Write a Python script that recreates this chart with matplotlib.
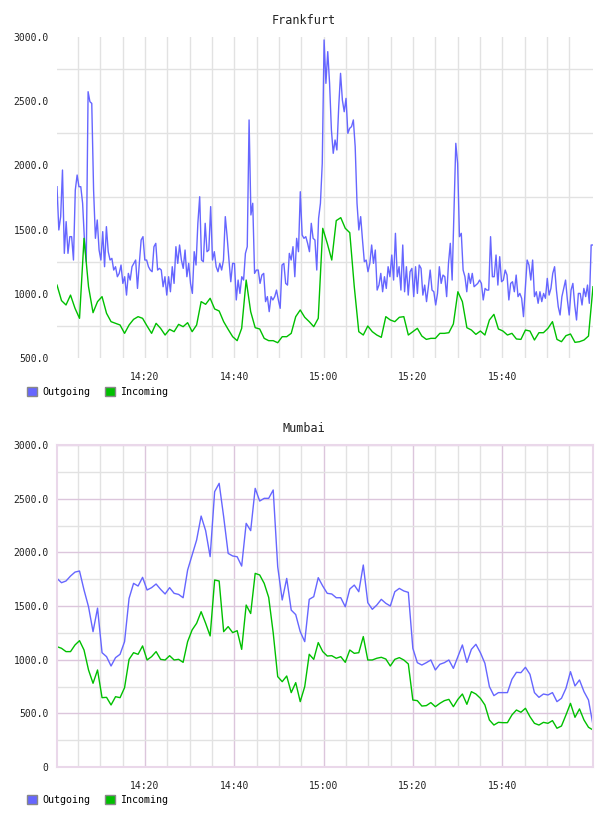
import numpy as np
import matplotlib.pyplot as plt
from matplotlib.patches import Patch

# time axis (minutes after 14:00)
tick_minutes = [20, 40, 60, 80, 100]
tick_labels = ["14:20", "14:40", "15:00", "15:20", "15:40"]

# Frankfurt
fra_out = [
    1834, 1497, 1601, 1964, 1315, 1562, 1315, 1445, 1445, 1263, 1808, 1925, 1834, 1834, 1705, 1419, 1250,
    2574, 2496, 2483, 1808, 1432, 1575, 1341, 1263, 1484, 1211, 1523, 1328, 1263, 1276, 1185, 1211, 1133,
    1159, 1224, 1081, 1133, 990, 1159, 1107, 1211, 1237, 1263, 1042, 1237, 1419, 1445, 1263, 1263, 1211,
    1185, 1172, 1367, 1393, 1185, 1198, 1185, 1055, 1133, 990, 1133, 1016, 1211, 1081, 1367, 1237, 1380,
    1263, 1198, 1341,
    1133, 1237, 1081, 1003, 1328, 1224, 1549, 1756, 1263, 1250, 1549, 1328, 1341, 1679, 1263, 1328, 1211,
    1172, 1237, 1185, 1263, 1601, 1445, 1263, 1094, 1237, 1237, 952, 1107, 1003, 1133, 1107, 1315, 1367,
    2354, 1614, 1705, 1159, 1185, 1185, 1081, 1146, 1159, 939, 978, 861, 978, 952, 978, 1029, 952, 887,
    1224, 1237, 1081, 1068, 1315, 1263, 1367, 1133, 1432, 1328, 1795, 1458, 1432, 1445, 1393, 1328, 1549,
    1432, 1419, 1185, 1588, 1705, 2016, 2977, 2639,
    2886, 2640, 2276, 2094, 2198, 2120, 2457, 2717, 2509, 2418, 2522, 2250, 2289, 2302, 2354, 2146, 1705,
    1497, 1601, 1419, 1250, 1263, 1172, 1237, 1380, 1237, 1341, 1029, 1068, 1159, 1016, 1133, 1042, 1211,
    1133, 1302, 1107, 1471, 1133, 1211, 1029, 1380, 1016, 1211, 990, 1172, 1198, 978, 1211, 1003, 1224,
    1198, 990, 1068, 939, 1055, 1185, 1029, 1016, 913, 1003, 1211, 1081, 1146, 1133, 978, 1237, 1393, 1107,
    1640, 2172, 2016, 1445,
    1471, 1185, 1133, 1016, 1159, 1081, 1159, 1055, 1068, 1081, 1107, 1081, 952, 1042, 1029, 1029, 1445,
    1133, 1133, 1302, 1068, 1289, 1094, 1107, 1185, 1146, 952, 1081, 1094, 1016, 1146, 978, 1003, 965, 822,
    1042, 1263, 1224, 1107, 1263, 978, 1016, 926, 1016, 939, 1003, 965, 1120, 990, 1042, 1159, 1211, 1029,
    900, 835, 978, 1042, 1107, 952, 835, 1029, 1081, 913, 796, 1003, 1003, 913, 1042, 978, 1068, 926, 1380,
    1380,
]
fra_in = [
    1068, 947, 913, 990, 887, 809, 1432, 1055, 853, 939, 978, 848, 783, 770, 757, 692, 757, 801, 822, 809,
    749, 692, 770, 731, 679, 723, 705, 762, 744, 775, 705,
    757, 939, 918, 965, 882, 866, 783, 723, 666, 635, 731, 1107, 861, 736, 726, 653, 635, 635, 619, 666,
    666, 692, 822, 874, 817, 783, 744, 809, 1510, 1393,
    1263, 1570, 1593, 1510, 1476, 1055, 705, 679, 749, 705, 679, 661, 822, 796, 783, 817, 822, 679, 705,
    731, 671, 645, 653, 653, 692, 692, 697, 765, 1016, 939,
    736, 718, 684, 710, 679, 796, 840, 726, 710, 679, 692, 648, 645, 718, 710, 640, 697, 697, 731, 783,
    645, 627, 674, 687, 622, 627, 640, 671, 1055,
]
fra_yticks = [500, 1000, 1500, 2000, 2500, 3000]
fra_ylabels = ["500.0", "1000.0", "1500.0", "2000.0", "2500.0", "3000.0"]

# Mumbai
mum_out = [
    1757, 1717, 1733, 1779, 1816, 1826, 1649, 1493, 1261, 1480, 1065, 1028, 941, 1019, 1050, 1168, 1571,
    1711, 1686, 1767, 1649, 1671, 1705, 1655, 1612, 1671, 1618, 1608, 1577, 1835, 1975, 2115, 2338, 2202,
    1960, 2565, 2643, 2332, 1990, 1966, 1959, 1872, 2270, 2202, 2596, 2478, 2503, 2503, 2581, 1866, 1556,
    1757, 1462, 1420, 1261, 1168, 1562, 1587, 1764, 1686, 1618, 1612, 1577, 1577, 1493, 1658, 1695, 1633,
    1882, 1531, 1469, 1509, 1562, 1525, 1500, 1633, 1664, 1640, 1627, 1106, 972, 950, 972, 997, 904, 957,
    972, 997, 919, 1028, 1137, 975, 1096, 1143, 1065, 966, 749, 665, 693, 693, 693, 817, 882, 879, 929, 864,
    693, 649, 680, 671, 693, 609, 640, 733, 888, 755, 811, 702, 624, 391,
]
mum_in = [
    1121, 1106, 1075, 1075, 1137, 1177, 1090, 904, 780, 904, 646, 649, 578, 655, 646, 739, 1003, 1065,
    1050, 1128, 997, 1028, 1075, 1003, 997, 1037, 997, 1003, 975, 1168, 1277, 1339, 1447, 1339, 1221, 1742,
    1733, 1261, 1308, 1252, 1270, 1096, 1509, 1430, 1804, 1789, 1711, 1580, 1250, 842, 795, 848, 693, 786,
    609, 749, 1050, 1003, 1159, 1075, 1034, 1037, 1013, 1028, 975, 1090, 1059, 1065, 1215, 997, 997, 1013,
    1022, 1006, 941, 1003, 1019, 997, 960, 624, 618, 568, 572, 600, 562, 593, 618, 630, 562, 630, 680, 584,
    702, 680, 640, 578, 438, 391, 416, 413, 413, 485, 531, 510, 547, 469, 407, 391, 416, 407, 432, 361, 382,
    485, 593, 463, 541, 438, 370, 345,
]
mum_yticks = [0, 500, 1000, 1500, 2000, 2500, 3000]
mum_ylabels = ["0", "500.0", "1000.0", "1500.0", "2000.0", "2500.0", "3000.0"]

OUT_COLOR = "#6666ff"
IN_COLOR = "#00c000"
T0, T1 = 0.3, 120.3
MONO = "DejaVu Sans Mono"


def draw_panel(ax, out_vals, in_vals, yticks, ylabels, ymin, styled):
    t_out = np.linspace(T0, T1, len(out_vals))
    t_in = np.linspace(T0, T1, len(in_vals))
    ax.plot(t_out, out_vals, color=OUT_COLOR, lw=1.0)
    ax.plot(t_in, in_vals, color=IN_COLOR, lw=1.0)
    ax.set_xlim(T0, T1)
    ax.set_ylim(ymin, 3000)

    ax.set_xticks(tick_minutes)
    ax.set_xticklabels(tick_labels, family=MONO, fontsize=7, color="#222222")
    ax.set_xticks(np.arange(5, 120, 5), minor=True)
    ax.set_yticks(yticks)
    ax.set_yticklabels(ylabels, family=MONO, fontsize=7, color="#222222")
    ax.set_yticks(np.arange(ymin + 250, 3000, 500), minor=True)
    ax.tick_params(which="both", length=0)
    ax.tick_params(axis="x", pad=10)
    ax.tick_params(axis="y", pad=6)
    ax.set_axisbelow(True)

    ax.grid(which="minor", color="#e2e2e2", lw=1.0)
    if styled:
        ax.grid(which="major", color="#dcc6dc", lw=1.0)
        for s in ax.spines.values():
            s.set_color("#ead8ea")
            s.set_linewidth(1.5)
    else:
        ax.grid(which="major", axis="x", color="#e2e2e2", lw=1.0)
        for s in ax.spines.values():
            s.set_visible(False)


fig = plt.figure(figsize=(6.08, 8.16), dpi=100)
ax1 = fig.add_axes([57 / 608, 1 - 358 / 816, 536 / 608, 321 / 816])
ax2 = fig.add_axes([57 / 608, 1 - 767 / 816, 536 / 608, 322 / 816])

draw_panel(ax1, fra_out, fra_in, fra_yticks, fra_ylabels, 500, False)
draw_panel(ax2, mum_out, mum_in, mum_yticks, mum_ylabels, 0, True)

fig.text(0.5, 1 - 20 / 816, "Frankfurt", family=MONO, fontsize=8.5, color="#222222",
         ha="center", va="center")
fig.text(0.5, 1 - 429 / 816, "Mumbai", family=MONO, fontsize=8.5, color="#222222",
         ha="center", va="center")

handles = [Patch(facecolor=OUT_COLOR, edgecolor="#888888", label="Outgoing"),
           Patch(facecolor=IN_COLOR, edgecolor="#888888", label="Incoming")]
for ypix in (392, 800):
    fig.legend(handles=handles, loc="center left", bbox_to_anchor=(22 / 608, 1 - ypix / 816),
               ncol=2, frameon=False, borderpad=0, handlelength=1.0, handleheight=1.0,
               handletextpad=0.5, columnspacing=1.5, prop={"family": MONO, "size": 7.2})

fig.savefig("out.png", dpi=100)
